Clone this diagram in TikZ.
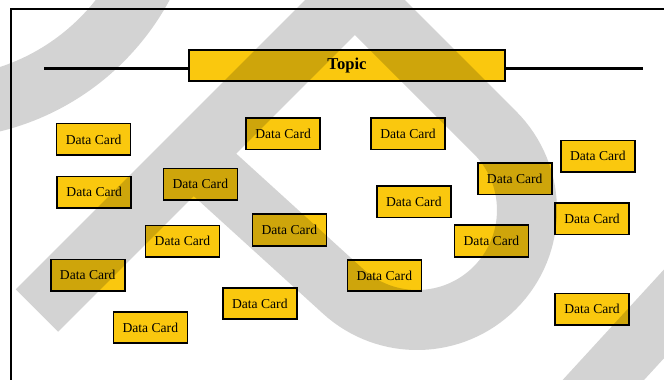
\documentclass[tikz,border=0pt]{standalone}
\usepackage{fontspec}
\setmainfont{Liberation Serif}
\definecolor{cardyellow}{RGB}{250,200,14}
\definecolor{markgray}{RGB}{211,211,211}
\begin{document}
\begin{tikzpicture}[x=1pt,y=-1pt,
  card/.style={draw=black, line width=1.6pt, fill=cardyellow,
    minimum width=74pt, minimum height=31.5pt, inner sep=0pt,
    font=\fontsize{13.6}{16}\selectfont},
  topicbar/.style={draw=black, line width=2pt, fill=cardyellow,
    minimum width=316pt, minimum height=31pt, inner sep=0pt,
    font=\fontsize{16.6}{20}\selectfont\bfseries},
  rule/.style={draw=black, line width=3.5pt},
  band/.style={draw=markgray, line width=60pt}]
\useasboundingbox (0,0) rectangle (664,380);

% outer frame (open to the right and bottom)
\begin{scope}
  \clip (0,0) rectangle (664,380);
  \draw[line width=2pt] (690,8.5) -- (11,8.5) -- (11,400);
\end{scope}

% topic bar on its rule
\coordinate (ruleL) at (44,68.5);
\coordinate (ruleR) at (643,68.5);
\node[topicbar] (topic) at (347,65.5) {};
\draw[rule] (ruleL) -- (ruleL -| topic.west);
\draw[rule] (ruleR -| topic.east) -- (ruleR);
\node[topicbar] (topicbox) at (347,65.5) {Topic};

% data cards
\node[card] (c1)  at (93.6,139.4)  {Data Card};
\node[card] (c2)  at (94.2,192.3)  {Data Card};
\node[card] (c3)  at (200.3,184.3) {Data Card};
\node[card] (c4)  at (283.1,133.7) {Data Card};
\node[card] (c5)  at (408,133.7)   {Data Card};
\node[card] (c6)  at (597.8,156.2) {Data Card};
\node[card] (c7)  at (514.7,178.8) {Data Card};
\node[card] (c8)  at (413.8,201.7) {Data Card};
\node[card] (c9)  at (592,218.7)   {Data Card};
\node[card] (c10) at (289.3,230)   {Data Card};
\node[card] (c11) at (182.5,241.2) {Data Card};
\node[card] (c12) at (491.4,241)   {Data Card};
\node[card] (c13) at (87.7,275.3)  {Data Card};
\node[card] (c14) at (384.3,275.5) {Data Card};
\node[card] (c15) at (259.8,303.5) {Data Card};
\node[card] (c16) at (150.3,327.5) {Data Card};
\node[card] (c17) at (592,309.2)   {Data Card};

% grey overlay bands
\begin{scope}[blend mode=multiply]
  \clip (0,0) rectangle (664,380);
  \draw[band] (37,310.5) -- (354.95,-7.45) -- (494.8,132.4)
    arc[start angle=-45, end angle=132.3, radius=109.9] -- (192.8,154.7);
  \draw[band, line width=62pt] (170,-125)
    arc[start angle=0, end angle=90, radius=233];
  \draw[band] (544.4,444.2) -- (733.7,237.9);
\end{scope}
\end{tikzpicture}
\end{document}
